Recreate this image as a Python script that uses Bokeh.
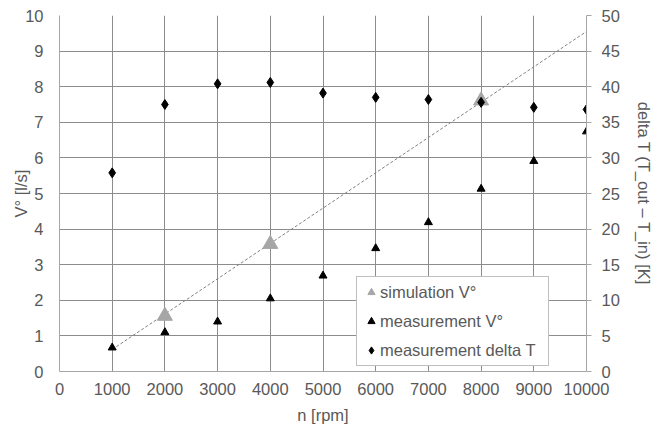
from bokeh.plotting import figure
from bokeh.models import Range1d, LinearAxis, FixedTicker, Legend, LegendItem
from bokeh.embed import file_html
from bokeh.resources import INLINE

# data
rpm = [1000, 2000, 3000, 4000, 5000, 6000, 7000, 8000, 9000, 10000]
meas_flow = [0.67, 1.10, 1.40, 2.05, 2.69, 3.46, 4.19, 5.13, 5.91, 6.74]
meas_dT = [27.9, 37.5, 40.4, 40.6, 39.1, 38.5, 38.2, 37.8, 37.1, 36.8]
sim_rpm = [2000, 4000, 8000]
sim_flow = [1.56, 3.58, 7.61]
trend_rpm = [1000, 10000]
trend_flow = [0.62, 9.55]
x_ticks = list(range(0, 10001, 1000))
y_ticks = list(range(0, 11))
dT_ticks = list(range(0, 51, 5))

FONT = "Liberation Sans"
TXT = "#595959"
GRID = "#8c8c8c"
AX = "#a6a6a6"

p = figure(width=655, height=426, output_backend="svg", toolbar_location=None,
           x_range=Range1d(0, 10000), y_range=Range1d(0, 10),
           min_border_left=59, min_border_right=68, min_border_top=15, min_border_bottom=55)
p.outline_line_color = None
p.background_fill_color = "white"
p.border_fill_color = "white"
p.extra_y_ranges = {"dt": Range1d(0, 50)}

p.xgrid.ticker = FixedTicker(ticks=x_ticks)
p.ygrid.ticker = FixedTicker(ticks=y_ticks)
p.xgrid.grid_line_color = GRID
p.ygrid.grid_line_color = GRID

for ax in (p.xaxis[0], p.yaxis[0]):
    ax.major_label_text_font = FONT
    ax.major_label_text_font_size = "16.5px"
    ax.major_label_text_color = TXT
    ax.axis_label_text_font = FONT
    ax.axis_label_text_font_size = "16.5px"
    ax.axis_label_text_font_style = "normal"
    ax.axis_label_text_color = TXT
    ax.axis_line_color = AX
    ax.major_tick_out = 0
    ax.major_tick_in = 0
    ax.minor_tick_out = 0
    ax.minor_tick_in = 0

p.xaxis[0].ticker = FixedTicker(ticks=x_ticks)
p.xaxis[0].axis_label = "n [rpm]"
p.xaxis[0].major_label_standoff = 11
p.xaxis[0].axis_label_standoff = 8

p.yaxis[0].ticker = FixedTicker(ticks=y_ticks)
p.yaxis[0].axis_label = "V° [l/s]"
p.yaxis[0].major_label_standoff = 16
p.yaxis[0].axis_label_standoff = -8

rax = LinearAxis(y_range_name="dt", ticker=FixedTicker(ticks=dT_ticks),
                 axis_label="delta T (T_out – T_in) [K]")
rax.major_label_text_font = FONT
rax.major_label_text_font_size = "16.5px"
rax.major_label_text_color = TXT
rax.axis_label_text_font = FONT
rax.axis_label_text_font_size = "16.5px"
rax.axis_label_text_font_style = "normal"
rax.axis_label_text_color = TXT
rax.axis_line_color = AX
rax.major_tick_out = 5
rax.major_tick_in = 0
rax.major_tick_line_color = AX
rax.minor_tick_out = 0
rax.minor_tick_in = 0
rax.major_label_standoff = 10
rax.axis_label_standoff = 12
p.add_layout(rax, "right")

p.line(trend_rpm, trend_flow, line_color="#808080", line_dash="3 2", line_width=1)

r_sim = p.scatter(sim_rpm, sim_flow, marker="triangle", size=15,
                  fill_color="#a6a6a6", line_color="#a6a6a6")
r_meas = p.scatter(rpm, meas_flow, marker="triangle", size=8,
                   fill_color="black", line_color="black")
r_dt = p.scatter(rpm, meas_dT, marker="diamond", size=10, y_range_name="dt",
                 fill_color="black", line_color="black")

legend = Legend(items=[
    LegendItem(label="simulation V°", renderers=[r_sim]),
    LegendItem(label="measurement V°", renderers=[r_meas]),
    LegendItem(label="measurement delta T", renderers=[r_dt]),
], location=(297, 5))
legend.label_text_font = FONT
legend.label_text_font_size = "16.5px"
legend.label_text_color = TXT
legend.border_line_color = "#808080"
legend.border_line_width = 1
legend.background_fill_color = "white"
legend.background_fill_alpha = 1
legend.glyph_width = 18
legend.glyph_height = 20
legend.label_height = 20
legend.label_width = 163
legend.label_standoff = 0
legend.spacing = 9
legend.padding = 5
legend.margin = 0
p.add_layout(legend, "center")

open("out.html", "w").write(file_html(p, INLINE))
